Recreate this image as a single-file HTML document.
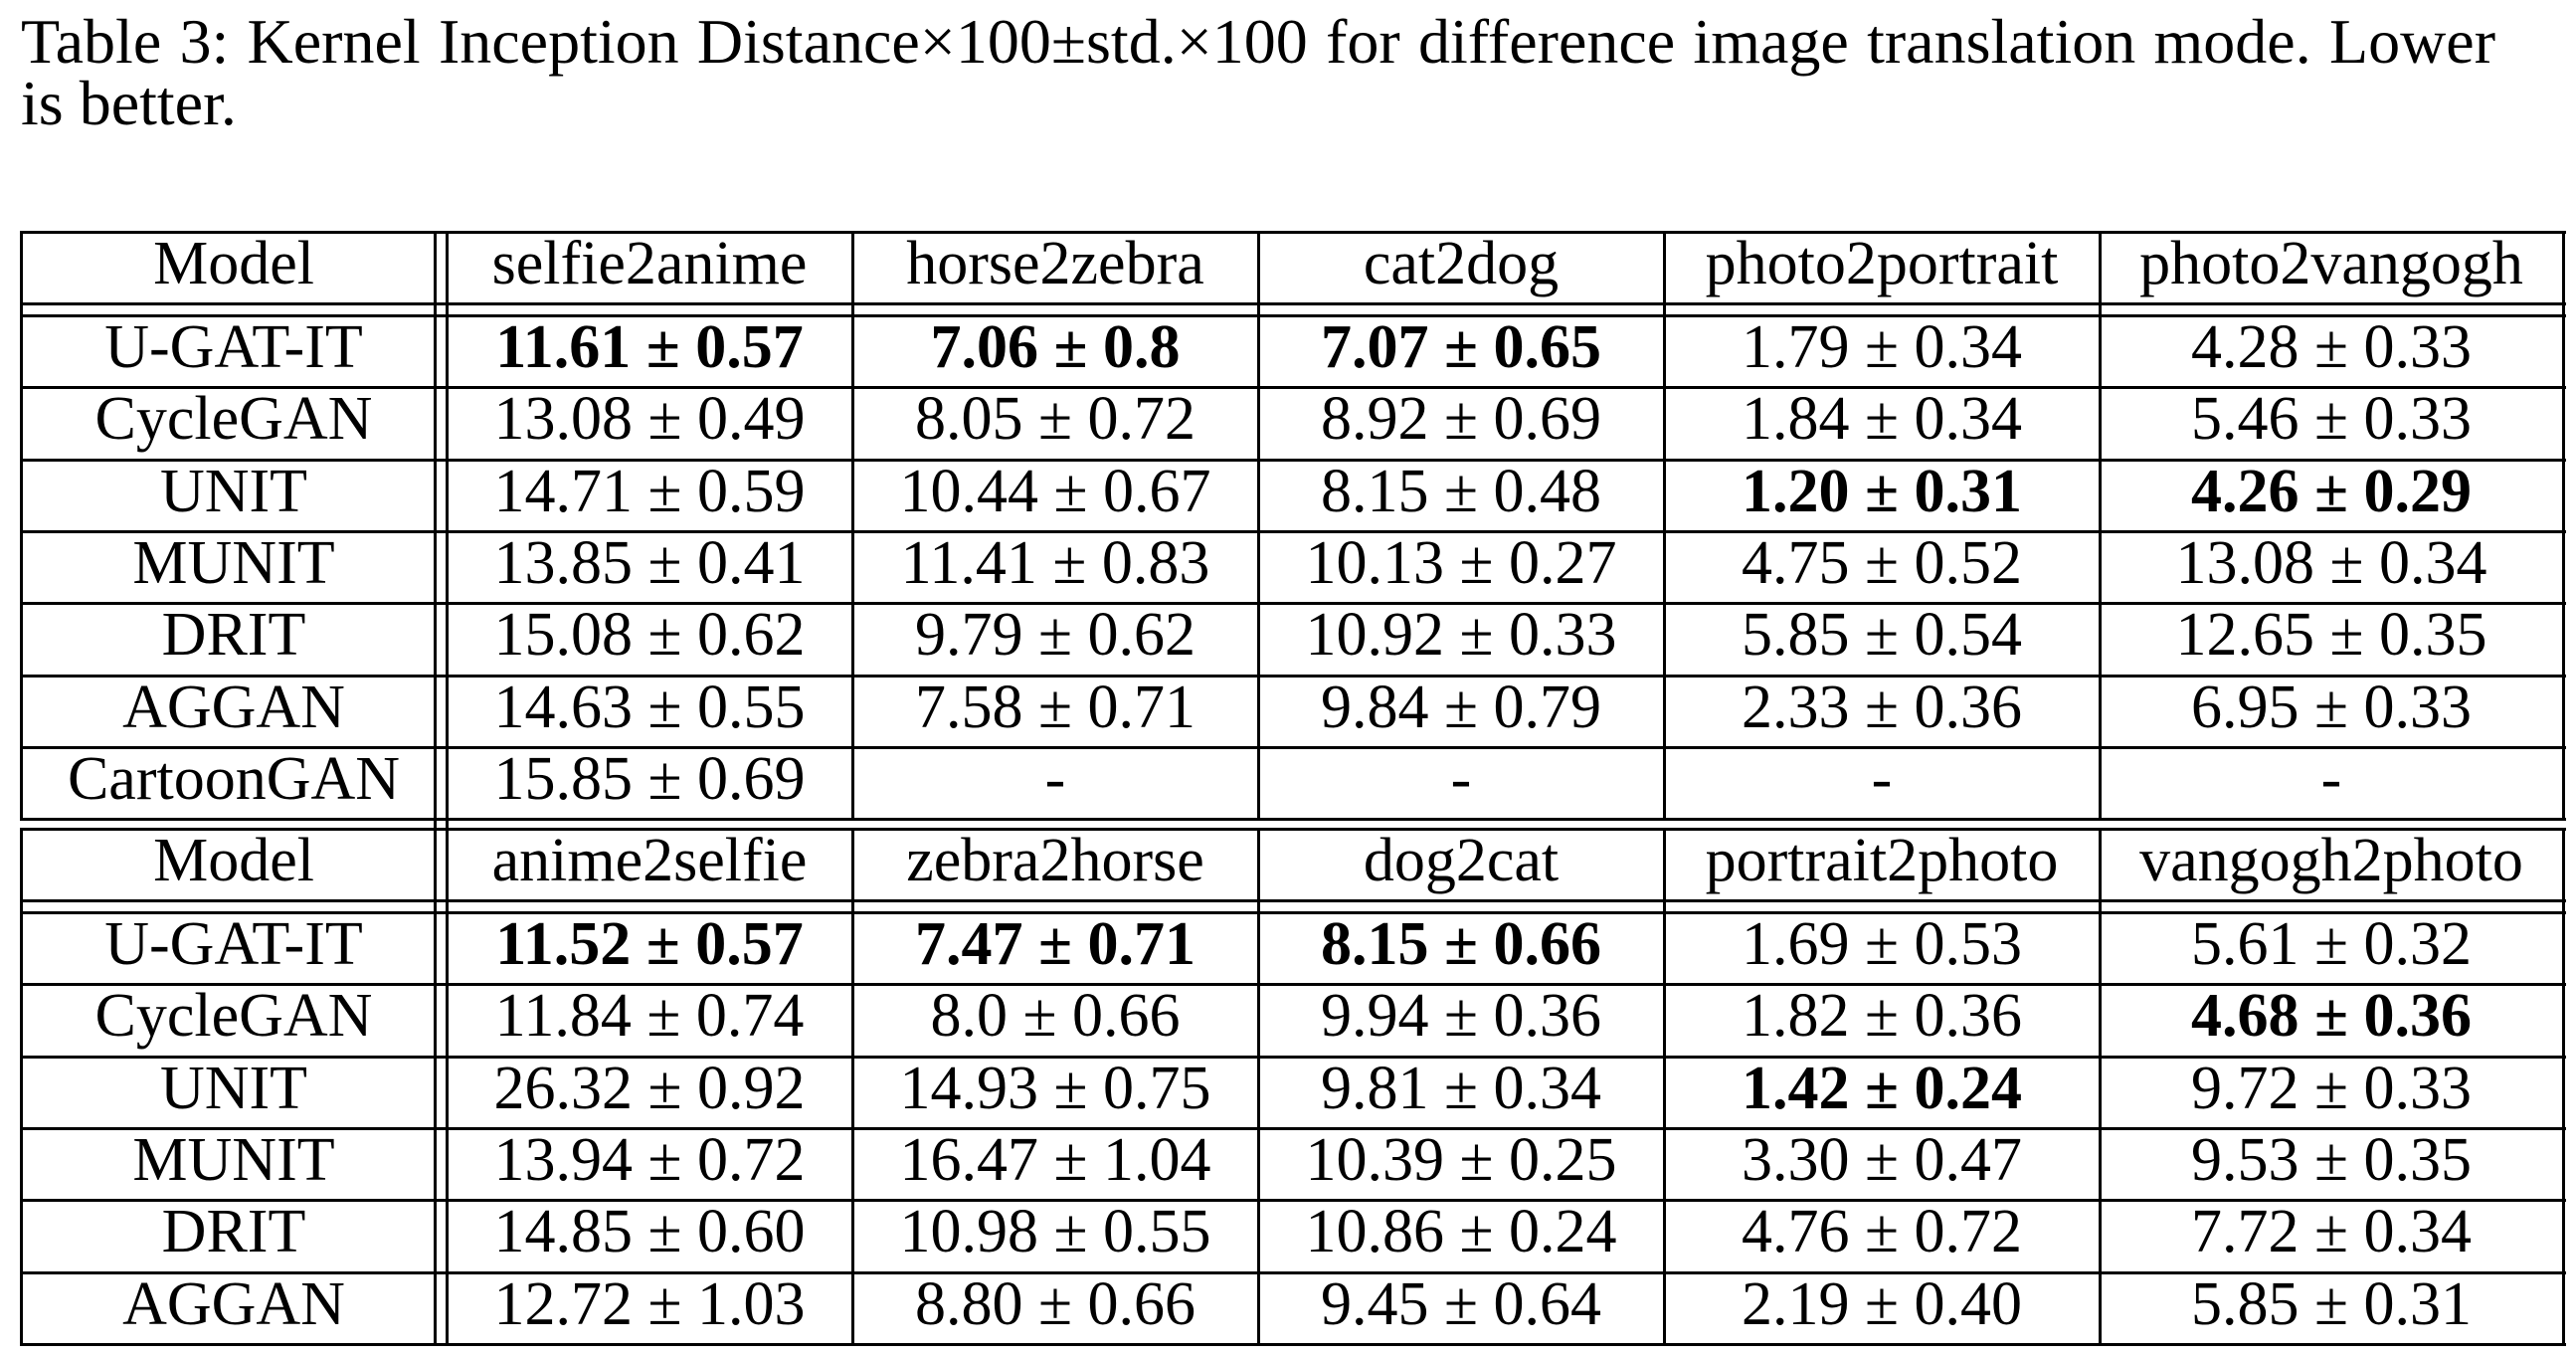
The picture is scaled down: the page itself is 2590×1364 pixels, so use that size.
<!DOCTYPE html>
<html><head><meta charset="utf-8">
<style>
html,body{margin:0;padding:0;background:#fff;}
body{width:2590px;height:1364px;position:relative;overflow:hidden;font-family:"Liberation Serif",serif;color:#000;}
.cap{position:absolute;left:21px;width:2488px;font-size:64px;line-height:64px;white-space:nowrap;}
.cap1{top:10px;text-align:justify;text-align-last:justify;white-space:normal;}
.cap2{top:72px;}
.hl{position:absolute;height:3px;background:#000;}
.vl{position:absolute;width:3px;background:#000;}
.cell{position:absolute;font-size:62px;text-align:center;white-space:nowrap;}
.b{font-weight:bold;}
</style></head>
<body>
<div class="cap cap1">Table 3: Kernel Inception Distance×100±std.×100 for difference image translation mode. Lower</div>
<div class="cap cap2">is better.</div>
<div id="tbl"></div>
<script>
const colHeaders1 = ["Model","selfie2anime","horse2zebra","cat2dog","photo2portrait","photo2vangogh"];
const colHeaders2 = ["Model","anime2selfie","zebra2horse","dog2cat","portrait2photo","vangogh2photo"];
const models1 = ["U-GAT-IT","CycleGAN","UNIT","MUNIT","DRIT","AGGAN","CartoonGAN"];
const models2 = ["U-GAT-IT","CycleGAN","UNIT","MUNIT","DRIT","AGGAN"];
const values1 = [
 ["11.61 ± 0.57","7.06 ± 0.8","7.07 ± 0.65","1.79 ± 0.34","4.28 ± 0.33"],
 ["13.08 ± 0.49","8.05 ± 0.72","8.92 ± 0.69","1.84 ± 0.34","5.46 ± 0.33"],
 ["14.71 ± 0.59","10.44 ± 0.67","8.15 ± 0.48","1.20 ± 0.31","4.26 ± 0.29"],
 ["13.85 ± 0.41","11.41 ± 0.83","10.13 ± 0.27","4.75 ± 0.52","13.08 ± 0.34"],
 ["15.08 ± 0.62","9.79 ± 0.62","10.92 ± 0.33","5.85 ± 0.54","12.65 ± 0.35"],
 ["14.63 ± 0.55","7.58 ± 0.71","9.84 ± 0.79","2.33 ± 0.36","6.95 ± 0.33"],
 ["15.85 ± 0.69","-","-","-","-"]
];
const bold1 = [[0,0],[0,1],[0,2],[2,3],[2,4]];
const values2 = [
 ["11.52 ± 0.57","7.47 ± 0.71","8.15 ± 0.66","1.69 ± 0.53","5.61 ± 0.32"],
 ["11.84 ± 0.74","8.0 ± 0.66","9.94 ± 0.36","1.82 ± 0.36","4.68 ± 0.36"],
 ["26.32 ± 0.92","14.93 ± 0.75","9.81 ± 0.34","1.42 ± 0.24","9.72 ± 0.33"],
 ["13.94 ± 0.72","16.47 ± 1.04","10.39 ± 0.25","3.30 ± 0.47","9.53 ± 0.35"],
 ["14.85 ± 0.60","10.98 ± 0.55","10.86 ± 0.24","4.76 ± 0.72","7.72 ± 0.34"],
 ["12.72 ± 1.03","8.80 ± 0.66","9.45 ± 0.64","2.19 ± 0.40","5.85 ± 0.31"]
];
const bold2 = [[0,0],[0,1],[0,2],[2,3],[1,4]];

const T = document.getElementById('tbl');
const colX = [21,449,857,1265,1673,2111,2577];
const vlines = [21,437,449,857,1265,1673,2111,2577];
const ROWH = 72.3;

function hl(y, name){
  const d=document.createElement('div');d.className='hl';
  
  
  d.style.left='21px';d.style.width='2559px';d.style.top=(y-1)+'px';T.appendChild(d);
}
function vl(x, y0, y1){
  const d=document.createElement('div');d.className='vl';
  
  
  d.style.left=(x-1)+'px';d.style.top=(y0-1)+'px';d.style.height=(y1-y0+3)+'px';T.appendChild(d);
}
function cell(txt, ci, top, h, isBold, name){
  const d=document.createElement('div');d.className='cell'+(isBold?' b':'');
  
  
  const x0 = ci===0?21:colX[ci];
  const x1 = colX[ci+1];
  d.style.left=x0+'px';d.style.width=(x1-x0)+'px';
  d.style.top=(top-4)+'px';d.style.height=h+'px';d.style.lineHeight=h+'px';
  d.textContent=txt;T.appendChild(d);
}
function block(top, headers, models, values, bolds){
  const hb = top+72, bt = hb+12;
  hl(top,'block-top-rule');hl(hb,'header-rule');hl(bt,'header-rule-double');
  headers.forEach((h,i)=>cell(h,i,top,72,false,'column-header'));
  const n = models.length;
  for(let r=0;r<n;r++){
    const y = bt + r*ROWH;
    cell(models[r],0,y,ROWH,false,'model-name');
    values[r].forEach((v,c)=>{
      const b = bolds.some(p=>p[0]===r&&p[1]===c);
      cell(v,c+1,y,ROWH,b,'kid-value');
    });
    hl(Math.round(y+ROWH), 'row-rule');
  }
  const bottom = Math.round(bt+n*ROWH);
  vlines.forEach(x=>vl(x, top, bottom));
  return bottom;
}
const b1 = block(233, colHeaders1, models1, values1, bold1);
vl(437, b1, 833); vl(449, b1, 833);
block(833, colHeaders2, models2, values2, bold2);
</script>
</body></html>
